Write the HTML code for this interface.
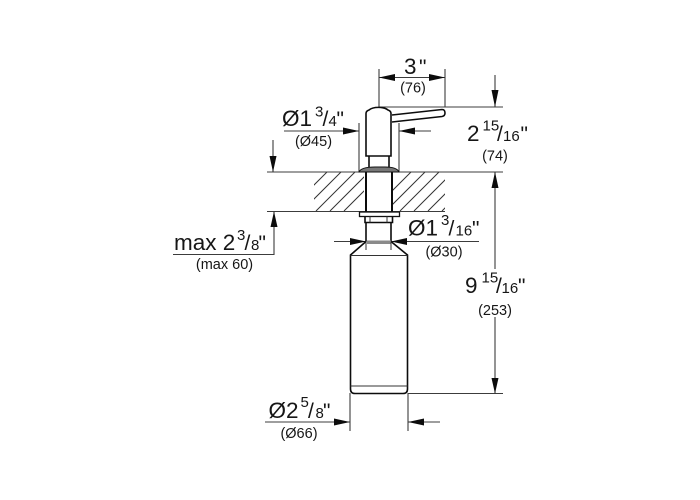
<!DOCTYPE html>
<html>
<head>
<meta charset="utf-8">
<style>
html,body{margin:0;padding:0;background:#fff}
svg{display:block;filter:blur(.25px)}
text{font-family:"Liberation Sans",sans-serif;fill:#161616}
.b{font-size:22.5px}
.s{font-size:15px}
.p{font-size:14.5px}
.q{font-size:21px}
.dim{stroke:#3c3c3c;stroke-width:1.1;fill:none}
.o{stroke:#0c0c0c;stroke-width:1.6;fill:none}
.t{stroke:#333;stroke-width:1;fill:none}
.h{stroke:#333;stroke-width:1}
.a{fill:#0c0c0c;stroke:none}
</style>
</head>
<body>
<svg width="700" height="500" viewBox="0 0 700 500" xmlns="http://www.w3.org/2000/svg">
<defs>
<clipPath id="c1"><rect x="314" y="172" width="50" height="39"/></clipPath>
<clipPath id="c2"><rect x="393" y="172" width="52" height="39"/></clipPath>
</defs>
<!-- hatching -->
<g clip-path="url(#c1)" class="h">
<path d="M274 211L313 172M288 211L327 172M302 211L341 172M316 211L355 172M330 211L369 172M344 211L383 172"/>
</g>
<g clip-path="url(#c2)" class="h">
<path d="M372 211L411 172M386 211L425 172M400 211L439 172M414 211L453 172M428 211L467 172M442 211L481 172"/>
</g>
<!-- dimension lines -->
<path class="dim" d="M267 172H503M267 211.5H445M379 69V107H503M445 69V107M379 77.5H445M495 75V107
M284 131H359M359 123V172M399 123V172M399 131H431
M273 140V172M274 211.5V254.5H173
M334 241.5H366M391 241.5H479
M495 172V269M495 317V393.5M408 393.5H503
M265 422H350M350 393V431M408 393V431M408 422H440"/>
<!-- arrowheads -->
<g class="a">
<path d="M379 77.5L395 74V81Z"/>
<path d="M445 77.5L429 74V81Z"/>
<path d="M495 107L491.500 90H498.500Z"/>
<path d="M359 131L343 127.500V134.500Z"/>
<path d="M399 131L415 127.500V134.500Z"/>
<path d="M273 172L269.500 156H276.500Z"/>
<path d="M274 211.500L270.500 227H277.500Z"/>
<path d="M366 241.500L350 238V245Z"/>
<path d="M391 241.500L407 238V245Z"/>
<path d="M495 172L491.500 188H498.500Z"/>
<path d="M495 393.500L491.500 378H498.500Z"/>
<path d="M350 422L334 418.500V425.500Z"/>
<path d="M408 422L424 418.500V425.500Z"/>
</g>
<!-- head -->
<path d="M366 156V113.500Q366 111 369 110C373 106.500 384 106.500 388 110Q391 111 391 113.500V156Z" fill="#fff" stroke="#0c0c0c" stroke-width="1.600"/>
<path class="o" d="M392 115L442 109.500Q445 109.500 445 113Q445 116 442 116.500L392 122"/>
<path class="o" d="M369 156V167M389 156V167"/>
<path d="M359 172Q361 167 375 167H385Q397 167 399 172Z" fill="#777" stroke="#111" stroke-width="1"/>
<!-- pipe -->
<path d="M366 172V212M392 172V212" stroke="#0c0c0c" stroke-width="2" fill="none"/>
<!-- flange and nut -->
<rect x="359.500" y="212" width="40" height="4.500" fill="#fff" stroke="#111" stroke-width="1.300"/>
<path class="o" d="M365 216.500V222.500H392.500V216.500"/>
<path class="t" d="M370 216.500V222.500M387 216.500V222.500"/>
<!-- bottle -->
<path class="o" d="M366 222.500V241.500M391 222.500V241.500"/>
<rect x="367" y="240.500" width="24" height="3.500" fill="#8a8a8a"/>
<path class="o" d="M366 241.500L350.500 255V389Q350.500 393.500 355 393.500H403Q407.500 393.500 407.500 389V255L391 241.500"/>
<path class="t" d="M366 241.500V250M391 241.500V250M350.500 255.500H407.500M350.500 386H407.500"/>
<!-- labels -->
<text class="b" x="404" y="74">3</text><text class="q" x="419" y="74">"</text>
<text class="p" x="413" y="92.700" text-anchor="middle">(76)</text>

<text class="b" x="282" y="126">Ø1</text>
<text class="s" x="315" y="116.700">3</text>
<text class="q" x="322.500" y="126">/</text>
<text class="s" x="328.500" y="126">4</text>
<text class="q" x="336.500" y="126">"</text>
<text class="p" x="313.500" y="146" text-anchor="middle">(Ø45)</text>

<text class="b" x="467" y="141">2</text>
<text class="s" x="482.500" y="130.500">15</text>
<text class="q" x="497" y="141">/</text>
<text class="s" x="503" y="141">16</text>
<text class="q" x="520.500" y="141">"</text>
<text class="p" x="495" y="160.700" text-anchor="middle">(74)</text>

<text class="b" x="408" y="235.700">Ø1</text>
<text class="s" x="441" y="225">3</text>
<text class="q" x="448.500" y="235.700">/</text>
<text class="s" x="455.500" y="235.700">16</text>
<text class="q" x="472" y="235.700">"</text>
<text class="p" x="444" y="256.700" text-anchor="middle">(Ø30)</text>

<text class="b" x="174" y="250">max 2</text>
<text class="s" x="237" y="240">3</text>
<text class="q" x="244.500" y="250">/</text>
<text class="s" x="251" y="250">8</text>
<text class="q" x="258.500" y="250">"</text>
<text class="p" x="224.500" y="269" text-anchor="middle">(max 60)</text>

<text class="b" x="268.500" y="418">Ø2</text>
<text class="s" x="300.500" y="407">5</text>
<text class="q" x="308" y="418">/</text>
<text class="s" x="315.500" y="418">8</text>
<text class="q" x="323" y="418">"</text>
<text class="p" x="299" y="438" text-anchor="middle">(Ø66)</text>

<text class="b" x="465" y="293">9</text>
<text class="s" x="481.500" y="282.700">15</text>
<text class="q" x="496" y="293">/</text>
<text class="s" x="501.500" y="293">16</text>
<text class="q" x="518" y="293">"</text>
<text class="p" x="495" y="315" text-anchor="middle">(253)</text>
</svg>
</body>
</html>
